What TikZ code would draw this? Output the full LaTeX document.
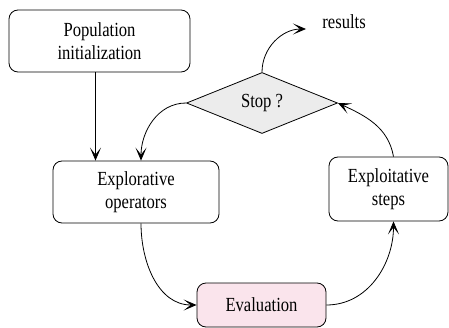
\documentclass[tikz,border=0pt]{standalone}
\usepackage{fontspec}
\setmainfont{Liberation Serif}[FakeStretch=0.83]
\usetikzlibrary{shapes.geometric,arrows.meta}
\definecolor{evalpink}{RGB}{250,228,236}
\begin{document}
\begin{tikzpicture}[x=1pt,y=1pt,line width=0.8pt,
  every node/.style={font=\fontsize{20}{23}\selectfont},
  box/.style={draw,rounded corners=9pt,align=center,inner sep=0pt},
  flow/.style={-{Stealth[length=13pt,width=11pt,inset=7pt]}}]
  \useasboundingbox (0,0) rectangle (449,327);
  \node[box,minimum width=181pt,minimum height=62pt] (pop) at (99.5,286) {Population\\initialization};
  \node[box,minimum width=166pt,minimum height=62pt] (expl) at (136,135) {Explorative\\operators};
  \node[box,minimum width=119pt,minimum height=64pt] (exploit) at (388.5,138) {Exploitative\\steps};
  \node[box,fill=evalpink,minimum width=129pt,minimum height=44pt] (eval) at (261.5,22) {Evaluation};
  \node[draw,diamond,fill=gray!15,aspect=2.5,inner sep=0pt,minimum width=151pt,minimum height=61pt] (stop) at (262,224) {Stop ?};
  \node[anchor=base west,inner sep=0pt] (res) at (322,298) {results};
  % main loop
  \draw[flow] ([xshift=-4pt]pop.south) -- ([xshift=-4pt]pop.south |- expl.north);
  \draw[flow] (stop.west) to[out=180,in=90] ([xshift=5pt]expl.north);
  \draw[flow] ([xshift=5pt]expl.south) to[out=-90,in=180] (eval.west);
  \draw[flow] (eval.east) to[out=0,in=-90] ([xshift=5pt]exploit.south);
  \draw[flow] ([xshift=5pt]exploit.north) to[out=100,in=-25] (stop.east);
  \draw[flow] (stop.north) to[out=90,in=180] ([xshift=-16pt]res.base west);
\end{tikzpicture}
\end{document}
